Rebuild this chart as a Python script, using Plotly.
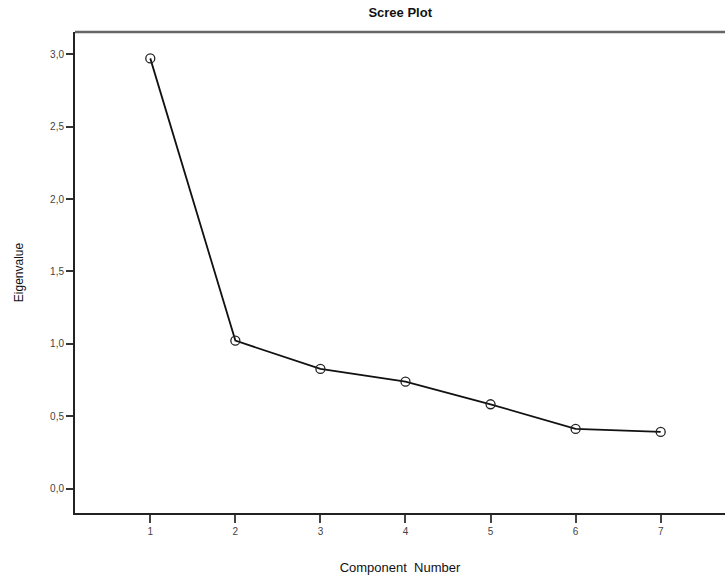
import plotly.graph_objects as go

components = [1, 2, 3, 4, 5, 6, 7]
eigenvalues = [2.97, 1.023, 0.828, 0.740, 0.584, 0.414, 0.393]
y_ticks = [0.0, 0.5, 1.0, 1.5, 2.0, 2.5, 3.0]
y_tick_labels = ["0,0", "0,5", "1,0", "1,5", "2,0", "2,5", "3,0"]
x_tick_labels = ["1", "2", "3", "4", "5", "6", "7"]

fig = go.Figure()
fig.add_trace(go.Scatter(
    x=components, y=eigenvalues, mode="lines+markers",
    line=dict(color="#111111", width=1.8),
    marker=dict(symbol="circle-open", size=9, color="#222222", line=dict(width=1.3)),
    showlegend=False, hoverinfo="skip"))

fig.update_layout(
    width=725, height=577,
    margin=dict(l=75, r=0, t=32, b=64),
    paper_bgcolor="white", plot_bgcolor="white",
    font=dict(family="Liberation Sans, Arial, sans-serif", color="#333333"),
    title=dict(text="<b>Scree Plot</b>", x=0.552, xanchor="center", y=0.978, yanchor="middle",
               font=dict(size=13, color="#111111")),
    xaxis=dict(range=[0.115, 7.756], tickvals=components, ticktext=x_tick_labels,
               showgrid=False, zeroline=False, showline=True, linecolor="#222222", linewidth=2,
               ticks="outside", ticklen=8, tickwidth=2, tickcolor="#444444",
               tickfont=dict(size=10, color="#444444"),
               title=dict(text="Component  Number", font=dict(size=13, color="#111111"), standoff=27)),
    yaxis=dict(range=[-0.166, 3.152], tickvals=y_ticks, ticktext=y_tick_labels,
               showgrid=False, zeroline=False, showline=True, linecolor="#222222", linewidth=2,
               ticks="outside", ticklen=7, tickwidth=2, tickcolor="#333333",
               tickfont=dict(size=10, color="#444444"),
               title=dict(text="Eigenvalue", font=dict(size=12, color="#111111"), standoff=24)),
)
fig.add_shape(type="line", xref="paper", yref="paper", x0=0, x1=1, y0=1, y1=1,
              line=dict(color="#666666", width=2.5))
fig.write_html("out.html")
